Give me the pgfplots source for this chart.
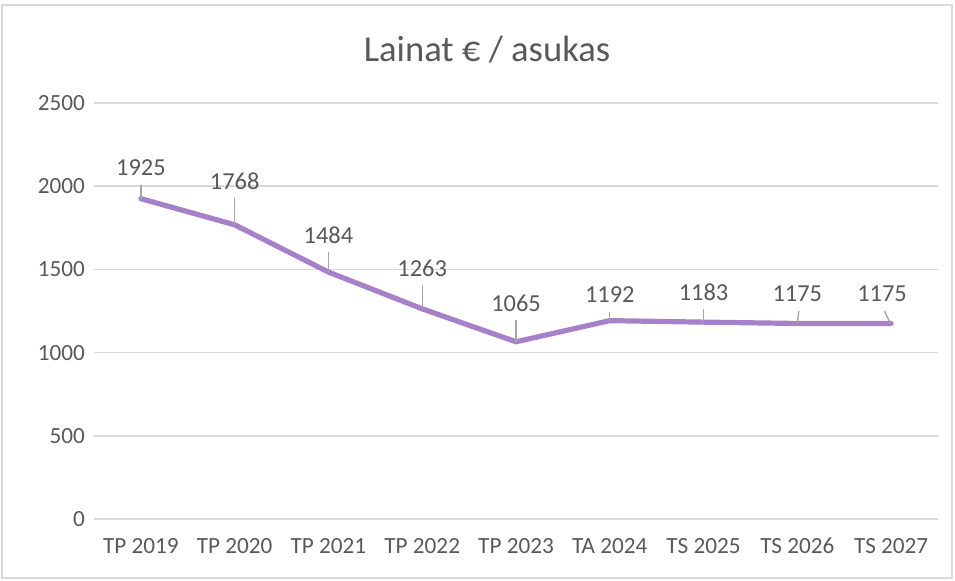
\documentclass[border=0pt]{standalone}
\usepackage{pgfplots}
\pgfplotsset{compat=1.18}
\usepackage{fontspec}
\setmainfont{Carlito}
\definecolor{txtC}{HTML}{595959}
\definecolor{gridC}{HTML}{D9D9D9}
\definecolor{lineC}{HTML}{A680C9}
\definecolor{leadC}{HTML}{A6A6A6}
\begin{document}
\begin{tikzpicture}
\useasboundingbox (-47pt,-31pt) rectangle (430.5pt,259.5pt);
\draw[gridC, line width=0.8pt] (-46pt,-29.5pt) rectangle (429pt,257pt);
\begin{axis}[
  scale only axis,
  width=422pt, height=208pt,
  xmin=-0.5, xmax=8.5, ymin=0, ymax=2500,
  ytick={0,500,1000,1500,2000,2500},
  xtick={0,...,8},
  xticklabels={TP 2019,TP 2020,TP 2021,TP 2022,TP 2023,TA 2024,TS 2025,TS 2026,TS 2027},
  ymajorgrids=true, xmajorgrids=false,
  y grid style={gridC, line width=0.75pt},
  axis line style={draw=none},
  major tick length=0pt,
  tick label style={font=\fontsize{11.6}{13}\selectfont, text=txtC},
  /pgf/number format/assume math mode=true,
  /pgf/number format/1000 sep={},
  yticklabel style={xshift=-1pt},
  xticklabel style={yshift=-6pt},
  clip=false,
]
\addplot[lineC, line width=2.6pt, line join=round, line cap=round] coordinates {
(0,1925) (1,1768) (2,1484) (3,1263) (4,1065) (5,1192) (6,1183) (7,1175) (8,1175)};
\begin{scope}[leadC, line width=0.7pt]
\draw (axis cs:0,2005) -- (axis cs:0,1925);
\draw (axis cs:1,1929) -- (axis cs:1,1768);
\draw (axis cs:2,1605) -- (axis cs:2,1484);
\draw (axis cs:3,1406) -- (axis cs:3,1263);
\draw (axis cs:4,1196) -- (axis cs:4,1065);
\draw (axis cs:5,1244) -- (axis cs:5,1192);
\draw (axis cs:6,1262) -- (axis cs:6,1183);
\draw (axis cs:7.015,1250) -- (axis cs:7,1175);
\draw (axis cs:7.93,1250) -- (axis cs:7.99,1178);
\end{scope}
\begin{scope}[every node/.style={font=\fontsize{12.2}{14}\selectfont, text=txtC}]
\node at (axis cs:0,2109) {1925};
\node at (axis cs:1,2031) {1768};
\node at (axis cs:2,1707) {1484};
\node at (axis cs:3,1508) {1263};
\node at (axis cs:4,1298) {1065};
\node at (axis cs:5,1346) {1192};
\node at (axis cs:6,1364) {1183};
\node at (axis cs:7,1352) {1175};
\node at (axis cs:7.904,1352) {1175};
\end{scope}
\end{axis}
\node[font=\fontsize{18.3}{22}\selectfont, text=txtC] at (196.5pt,234.5pt) {Lainat € / asukas};
\end{tikzpicture}
\end{document}
